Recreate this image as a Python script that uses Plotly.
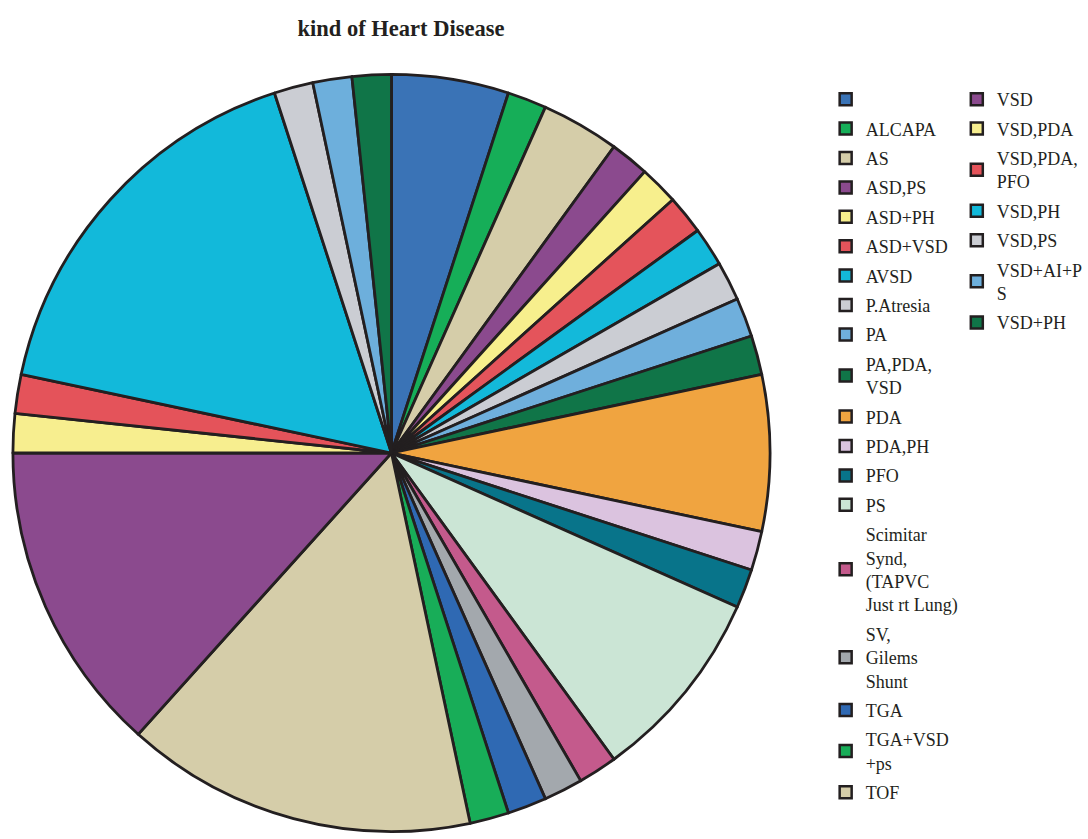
import plotly.graph_objects as go

labels = ["", "ALCAPA", "AS", "ASD,PS", "ASD+PH", "ASD+VSD", "AVSD", "P.Atresia", "PA",
          "PA,PDA,<br>VSD", "PDA", "PDA,PH", "PFO", "PS",
          "Scimitar<br>Synd,<br>(TAPVC<br>Just rt Lung)", "SV,<br>Gilems<br>Shunt", "TGA",
          "TGA+VSD<br>+ps", "TOF", "VSD", "VSD,PDA", "VSD,PDA,<br>PFO", "VSD,PH", "VSD,PS",
          "VSD+AI+P<br>S", "VSD+PH"]
values = [3, 1, 2, 1, 1, 1, 1, 1, 1, 1, 4, 1, 1, 5, 1, 1, 1, 1, 9, 8, 1, 1, 10, 1, 1, 1]
colors = ["#3a73b6", "#16ae58", "#d5cda9", "#8b4a8e", "#f7ef8d", "#e4545b", "#13b9da",
          "#cbcdd3", "#6fafdc", "#107548", "#f0a440", "#dbc3df", "#08748a", "#cbe5d5",
          "#c45a8c", "#a3a8ad", "#2f69b3", "#18ad58", "#d5cda9", "#8b4a8e", "#f7ee8f",
          "#e4535a", "#12b9da", "#cbcdd3", "#6dafdc", "#107548"]
first_column_count = 19

W, H = 1088, 839
LINE = "#231f20"
FONT = "Liberation Serif"

# pie geometry (pixels)
cx, cy, r = 394, 453, 381

fig = go.Figure()

# tiny hidden pies used only to build the two-column legend
for i, (lab, val, col) in enumerate(zip(labels, values, colors)):
    fig.add_trace(go.Pie(
        labels=[lab if lab else " "], values=[val],
        marker=dict(colors=[col], line=dict(color=LINE, width=2.5)),
        textinfo="none", hoverinfo="skip", sort=False,
        domain=dict(x=[(cx - 0.5) / W, (cx + 0.5) / W], y=[1 - (cy + 0.5) / H, 1 - (cy - 0.5) / H]),
        legend="legend" if i < first_column_count else "legend2",
        legendgroup=f"g{i}", showlegend=True,
    ))

# main pie
fig.add_trace(go.Pie(
    labels=[l if l else " " for l in labels], values=values,
    marker=dict(colors=colors, line=dict(color=LINE, width=2.8)),
    sort=False, direction="clockwise", rotation=0,
    textinfo="none", showlegend=False,
    domain=dict(x=[(cx - r) / W, (cx + r) / W], y=[1 - (cy + r) / H, 1 - (cy - r) / H]),
))

legend_common = dict(
    xanchor="left", yanchor="top",
    font=dict(family=FONT, size=18, color=LINE),
    tracegroupgap=3, bgcolor="rgba(0,0,0,0)", borderwidth=0,
    valign="middle",
)

fig.update_layout(
    width=W, height=H,
    margin=dict(l=0, r=0, t=0, b=0),
    paper_bgcolor="white", plot_bgcolor="white",
    title=dict(text="<b>kind of Heart Disease</b>", x=401 / W, xanchor="center",
               y=1 - 28 / H, yanchor="middle",
               font=dict(family=FONT, size=22.5, color=LINE)),
    legend=dict(x=831 / W, y=1 - 81 / H, **legend_common),
    legend2=dict(x=963 / W, y=1 - 81 / H, **legend_common),
)

fig.write_html("out.html")
